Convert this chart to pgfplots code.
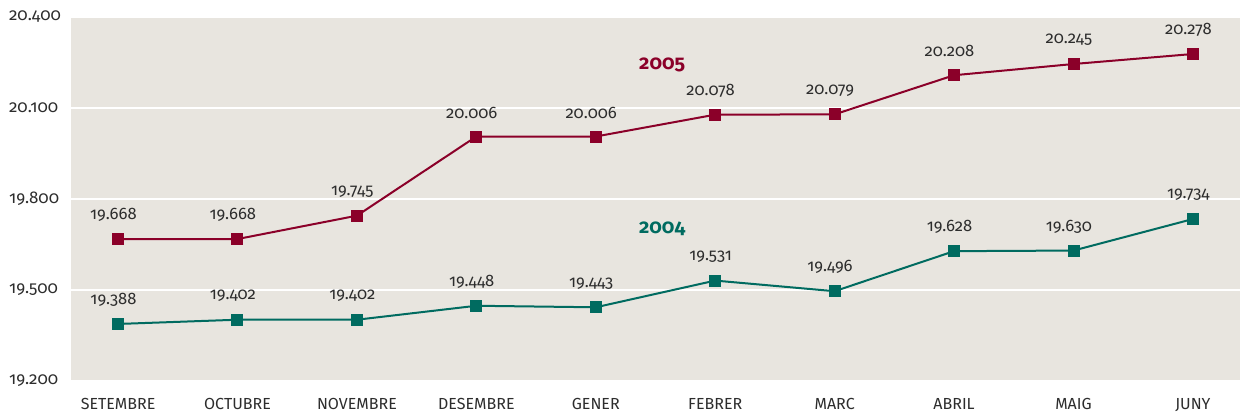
\documentclass[border=0pt]{standalone}
\usepackage{pgfplots}
\pgfplotsset{compat=1.18}
\usepackage{fontspec}
\setmainfont[RawFeature=+onum]{Fira Sans}
\definecolor{bgc}{RGB}{232,229,223}
\definecolor{red05}{RGB}{139,0,41}
\definecolor{teal04}{RGB}{0,107,96}
\definecolor{txt}{RGB}{45,45,45}
\begin{document}
\begin{tikzpicture}
\path (-35.5pt,-16.5pt) rectangle (585.5pt,190.5pt);
\begin{axis}[
  scale only axis,
  width=584.5pt, height=182pt,
  xmin=-0.394, xmax=9.394,
  ymin=19.2, ymax=20.4,
  xtick={0,...,9},
  xticklabels={SETEMBRE,OCTUBRE,NOVEMBRE,DESEMBRE,GENER,FEBRER,MARC,ABRIL,MAIG,JUNY},
  ytick={19.2,19.5,19.8,20.1,20.4},
  axis line style={draw=none},
  major tick length=0pt,
  ymajorgrids,
  grid style={white, line width=1pt},
  axis background/.style={fill=bgc},
  /pgf/number format/.cd, fixed, fixed zerofill, precision=3, use period, 1000 sep={}, assume math mode=true,
  /pgfplots/.cd,
  ticklabel style={font=\fontsize{8}{9}\selectfont, text=txt},
  yticklabel style={anchor=west, xshift=-34.5pt, font=\fontsize{8.5}{9}\selectfont},
  xticklabel style={yshift=-5pt},
  nodes near coords,
  nodes near coords style={font=\fontsize{8.3}{9}\selectfont, text=txt, anchor=center, yshift=12pt, xshift=-2.3pt},
  clip=false,
]
\addplot[red05, line width=1pt, mark=square*, mark size=2.5pt] coordinates {
(0,19.668) (1,19.668) (2,19.745) (3,20.006) (4,20.006) (5,20.078) (6,20.079) (7,20.208) (8,20.245) (9,20.278)};
\addplot[teal04, line width=1pt, mark=square*, mark size=2.5pt] coordinates {
(0,19.388) (1,19.402) (2,19.402) (3,19.448) (4,19.443) (5,19.531) (6,19.496) (7,19.628) (8,19.630) (9,19.734)};
\node[text=red05, font=\bfseries\fontsize{10}{11}\selectfont] at (axis cs:4.556,20.242) {2005};
\node[text=teal04, font=\bfseries\fontsize{10}{11}\selectfont] at (axis cs:4.556,19.701) {2004};
\end{axis}
\end{tikzpicture}
\end{document}
